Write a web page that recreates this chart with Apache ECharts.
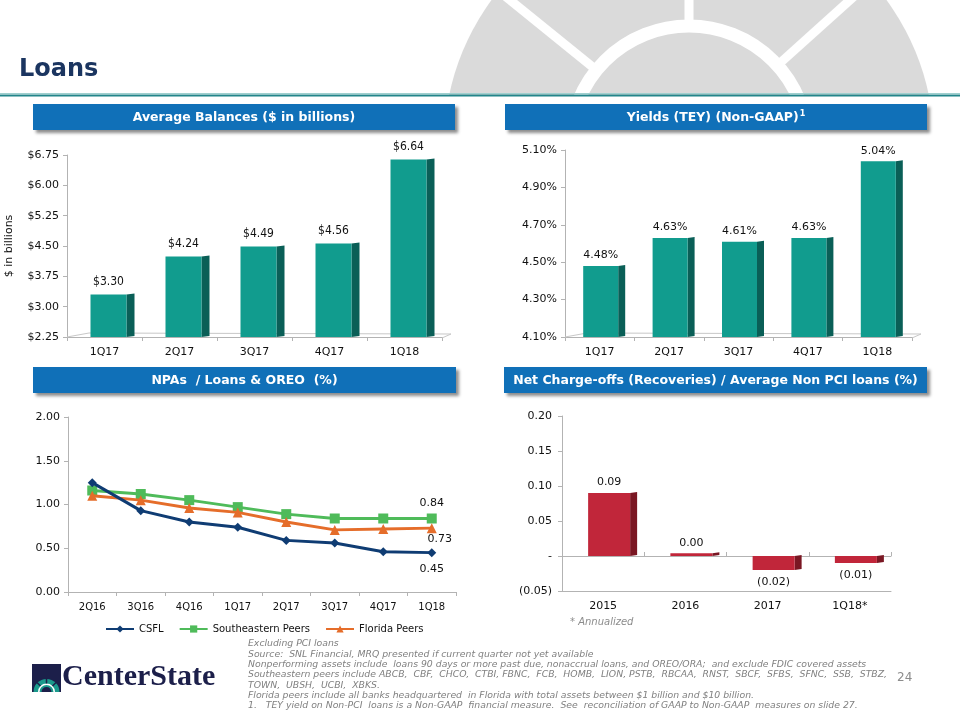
<!DOCTYPE html>
<html>
<head>
<meta charset="utf-8">
<script src="https://cdn.jsdelivr.net/npm/echarts@6/dist/echarts.min.js"></script>
<style>
html,body{margin:0;padding:0;background:#fff;}
#chart{width:960px;height:720px;}
</style>
</head>
<body>
<div id="chart"></div>
<script>
// ---------- data ----------
const balCats = ['1Q17', '2Q17', '3Q17', '4Q17', '1Q18'];
const balValues = [3.30, 4.24, 4.49, 4.56, 6.64];
const balTicks = [2.25, 3.00, 3.75, 4.50, 5.25, 6.00, 6.75];

const yieldCats = ['1Q17', '2Q17', '3Q17', '4Q17', '1Q18'];
const yieldValues = [4.48, 4.63, 4.61, 4.63, 5.04];
const yieldTicks = [4.10, 4.30, 4.50, 4.70, 4.90, 5.10];

const npaCats = ['2Q16', '3Q16', '4Q16', '1Q17', '2Q17', '3Q17', '4Q17', '1Q18'];
const csflValues = [1.25, 0.93, 0.80, 0.74, 0.59, 0.56, 0.46, 0.45];
const sePeersValues = [1.16, 1.12, 1.05, 0.97, 0.89, 0.84, 0.84, 0.84];
const flPeersValues = [1.10, 1.05, 0.96, 0.91, 0.80, 0.71, 0.72, 0.73];
const npaTicks = [0, 0.5, 1.0, 1.5, 2.0];

const ncoCats = ['2015', '2016', '2017', '1Q18*'];
const ncoValues = [0.09, 0.004, -0.02, -0.01];
const ncoTicks = [-0.05, 0, 0.05, 0.10, 0.15, 0.20];

const footLines = [
  'Excluding PCI loans',
  'Source:  SNL Financial, MRQ presented if current quarter not yet available',
  'Nonperforming assets include  loans 90 days or more past due, nonaccrual loans, and OREO/ORA;  and exclude FDIC covered assets',
  'Southeastern peers include ABCB,  CBF,  CHCO,  CTBI, FBNC,  FCB,  HOMB,  LION, PSTB,  RBCAA,  RNST,  SBCF,  SFBS,  SFNC,  SSB,  STBZ,',
  'TOWN,  UBSH,  UCBI,  XBKS.',
  'Florida peers include all banks headquartered  in Florida with total assets between $1 billion and $10 billion.',
  '1.   TEY yield on Non-PCI  loans is a Non-GAAP  financial measure.  See  reconciliation of GAAP to Non-GAAP  measures on slide 27.'
];

// ---------- style ----------
const FONT = '"DejaVu Sans", Verdana, sans-serif';
const FONT_C = '"DejaVu Sans Condensed", "DejaVu Sans", sans-serif';
const AXIS_GRAY = '#b3b3b3';
const TEAL = '#119c8e', TEAL_SIDE = '#0a5f57';
const RED = '#c1263a', RED_SIDE = '#7a1723';
const HEADER_BLUE = '#1070b8';

const G = [
  {left: 67, top: 155, width: 375, height: 182},
  {left: 565, top: 150, width: 347, height: 187},
  {left: 68, top: 417, width: 388, height: 175},
  {left: 562, top: 416, width: 329, height: 175}
];

function bar3d(o) {
  return function (params, api) {
    const i = api.value(0), v = api.value(1);
    const p = api.coord([i, v]);
    const b = api.coord([i, o.base]);
    const x = p[0] - o.w / 2 + o.shift;
    const yTop = Math.min(p[1], b[1]);
    const yBot = Math.max(p[1], b[1]);
    const h = Math.max(yBot - yTop, 0.8);
    const d = o.depth, s = o.slant;
    return {
      type: 'group',
      children: [
        {
          type: 'polygon',
          shape: {points: [[x + o.w, yTop], [x + o.w + d, yTop - s], [x + o.w + d, yTop + h - s], [x + o.w, yTop + h]]},
          style: {fill: o.side}
        },
        {
          type: 'rect',
          shape: {x: x, y: yTop, width: o.w, height: h},
          style: {fill: o.front},
          textContent: {
            style: {text: o.fmt(v), fill: '#111', font: o.font}
          },
          textConfig: {position: v >= 0 ? 'top' : 'bottom', distance: v >= 0 ? o.distTop : o.distBot}
        }
      ]
    };
  };
}

function fmtNco(v) {
  const r = Math.round(v * 100) / 100;
  if (Math.abs(v) < 1e-9) return '-';
  if (r < 0) return '(' + Math.abs(r).toFixed(2) + ')';
  return r.toFixed(2);
}

const HFONT = 'bold 12.5px ' + FONT;
function header(x, y, w, h, rich) {
  return {
    type: 'group',
    z: 10,
    children: [
      {
        type: 'rect', shape: {x: x, y: y, width: w, height: h},
        style: {fill: HEADER_BLUE, shadowBlur: 3, shadowOffsetX: 3, shadowOffsetY: 3, shadowColor: 'rgba(0,0,0,0.45)'}
      },
      {
        type: 'text', x: x + w / 2, y: y + h / 2 + 1,
        style: Object.assign({fill: '#fff', font: HFONT, align: 'center', verticalAlign: 'middle'}, rich)
      }
    ]
  };
}

function floorLines(g) {
  const L = g.left, B = g.top + g.height, R = g.left + g.width;
  return {
    type: 'polyline', z: 1,
    shape: {points: [[L, B], [L + 22, B - 4], [R + 9, B - 3], [R, B + 1]]},
    style: {stroke: '#c8c8c8', lineWidth: 1, fill: null}
  };
}

// ---------- graphics ----------
const CX = 689, CY = 145;
function spoke(ang, r0, r1) {
  const a = ang * Math.PI / 180;
  return {
    type: 'line', z: -9,
    shape: {x1: CX + r0 * Math.cos(a), y1: CY - r0 * Math.sin(a), x2: CX + r1 * Math.cos(a), y2: CY - r1 * Math.sin(a)},
    style: {stroke: '#fff', lineWidth: 9}
  };
}

const NAVY = '#1c1f4a', LOGO_TEAL = '#1a9a8c';
const graphics = [
  {type: 'circle', z: -10, shape: {cx: CX, cy: CY, r: 245}, style: {fill: '#dadada'}},
  {type: 'circle', z: -9, shape: {cx: CX, cy: CY, r: 119}, style: {fill: null, stroke: '#fff', lineWidth: 13}},
  spoke(90, 124, 260),
  spoke(141, 124, 260),
  spoke(42, 124, 260),
  {type: 'rect', z: -5, shape: {x: 0, y: 95, width: 960, height: 625}, style: {fill: '#fff'}},
  {type: 'line', z: -4, shape: {x1: 0, y1: 93.5, x2: 960, y2: 93.5}, style: {stroke: '#9fd0cf', lineWidth: 1}},
  {type: 'line', z: -4, shape: {x1: 0, y1: 95.5, x2: 960, y2: 95.5}, style: {stroke: '#23858a', lineWidth: 2}},
  {type: 'text', x: 19, y: 70, style: {text: 'Loans', font: 'bold 24px ' + FONT, fill: '#1b3560', verticalAlign: 'middle'}},
  header(33, 104, 422, 26, {text: 'Average Balances ($ in billions)'}),
  header(505, 104, 422, 26, {
    text: '{m|Yields (TEY) (Non-GAAP)}{s|1}',
    rich: {
      m: {fill: '#fff', font: HFONT, lineHeight: 16},
      s: {fill: '#fff', font: 'bold 8px ' + FONT, lineHeight: 16, verticalAlign: 'top', padding: [0, 0, 6, 1]}
    }
  }),
  header(33, 367, 423, 26, {text: 'NPAs  / Loans & OREO  (%)'}),
  header(504, 367, 423, 26, {text: 'Net Charge-offs (Recoveries) / Average Non PCI loans (%)'}),
  floorLines(G[0]),
  floorLines(G[1]),
  {type: 'text', x: 570, y: 622, style: {text: '* Annualized', font: 'italic 10px ' + FONT, fill: '#8c8c8c', verticalAlign: 'middle'}},
  {type: 'text', x: 897, y: 678, style: {text: '24', font: '12px ' + FONT, fill: '#8c8c8c', verticalAlign: 'middle'}},
  // logo
  {type: 'rect', shape: {x: 32, y: 664, width: 29, height: 28}, style: {fill: NAVY}},
  {type: 'sector', shape: {cx: 46.5, cy: 692, r0: 0, r: 13, startAngle: Math.PI, endAngle: 2 * Math.PI}, style: {fill: LOGO_TEAL}},
  {type: 'sector', shape: {cx: 46.5, cy: 692, r0: 7, r: 8.5, startAngle: Math.PI, endAngle: 2 * Math.PI}, style: {fill: '#fff'}},
  {type: 'sector', shape: {cx: 46.5, cy: 692, r0: 0, r: 5, startAngle: Math.PI, endAngle: 2 * Math.PI}, style: {fill: NAVY}},
  {type: 'line', shape: {x1: 46.5, y1: 683.5, x2: 46.5, y2: 679}, style: {stroke: NAVY, lineWidth: 1.5}},
  {type: 'line', shape: {x1: 40.5, y1: 686, x2: 37, y2: 682.5}, style: {stroke: NAVY, lineWidth: 1.5}},
  {type: 'line', shape: {x1: 52.5, y1: 686, x2: 56, y2: 682.5}, style: {stroke: NAVY, lineWidth: 1.5}},
  {type: 'text', x: 62, y: 692, style: {text: 'CenterState', font: 'bold 30px "Liberation Serif", serif', fill: NAVY, verticalAlign: 'bottom'}}
];
footLines.forEach(function (t, i) {
  graphics.push({type: 'text', x: 248, y: 644 + i * 10.3, style: {text: t, font: 'italic 9.3px ' + FONT, fill: '#808080', verticalAlign: 'middle'}});
});

// ---------- axes ----------
function catAxis(gi, data, extra) {
  return Object.assign({
    type: 'category', gridIndex: gi, data: data, boundaryGap: true,
    axisLine: {show: true, lineStyle: {color: AXIS_GRAY}},
    axisTick: {show: true, length: 4, lineStyle: {color: AXIS_GRAY}},
    axisLabel: {color: '#111', fontSize: 11, fontFamily: FONT, margin: 10},
    splitLine: {show: false}
  }, extra || {});
}
function valAxis(gi, extra) {
  return Object.assign({
    type: 'value', gridIndex: gi,
    axisLine: {show: true, lineStyle: {color: AXIS_GRAY}},
    axisTick: {show: true, length: 4, lineStyle: {color: AXIS_GRAY}},
    axisLabel: {color: '#111', fontSize: 11, fontFamily: FONT, margin: 8},
    splitLine: {show: false}
  }, extra || {});
}

const option = {
  animation: false,
  backgroundColor: '#fff',
  textStyle: {fontFamily: FONT},
  grid: G.map(function (g) { return Object.assign({containLabel: false}, g); }),
  xAxis: [
    catAxis(0, balCats),
    catAxis(1, yieldCats),
    catAxis(2, npaCats, {axisLabel: {color: '#111', fontSize: 10, fontFamily: FONT, margin: 10}}),
    catAxis(3, ncoCats, {axisLine: {show: true, onZero: false, lineStyle: {color: AXIS_GRAY}}, axisTick: {show: false}}),
    catAxis(3, ncoCats, {axisLine: {show: true, onZero: true, lineStyle: {color: AXIS_GRAY}}, axisLabel: {show: false}})
  ],
  yAxis: [
    valAxis(0, {
      min: balTicks[0], max: balTicks[balTicks.length - 1], interval: 0.75,
      axisLabel: {color: '#111', fontSize: 11, fontFamily: FONT, margin: 8, formatter: function (v) { return '$' + v.toFixed(2); }},
      name: '$ in billions', nameLocation: 'middle', nameRotate: 90, nameGap: 52,
      nameTextStyle: {color: '#111', fontSize: 11, fontFamily: FONT}
    }),
    valAxis(1, {
      min: yieldTicks[0], max: yieldTicks[yieldTicks.length - 1],
      axisLabel: {color: '#111', fontSize: 11, fontFamily: FONT, margin: 8, customValues: yieldTicks, formatter: function (v) { return v.toFixed(2) + '%'; }},
      axisTick: {show: true, length: 4, lineStyle: {color: AXIS_GRAY}, customValues: yieldTicks}
    }),
    valAxis(2, {
      min: npaTicks[0], max: npaTicks[npaTicks.length - 1], interval: 0.5,
      axisLabel: {color: '#111', fontSize: 11, fontFamily: FONT, margin: 8, formatter: function (v) { return v.toFixed(2); }}
    }),
    valAxis(3, {
      min: ncoTicks[0], max: ncoTicks[ncoTicks.length - 1], interval: 0.05,
      axisLabel: {color: '#111', fontSize: 11, fontFamily: FONT, margin: 10, formatter: fmtNco}
    })
  ],
  legend: {
    data: ['CSFL', 'Southeastern Peers', 'Florida Peers'],
    left: 100, top: 619, itemWidth: 28, itemHeight: 9, itemGap: 15,
    textStyle: {fontSize: 10, fontFamily: FONT, color: '#111'}
  },
  series: [
    {
      type: 'custom', xAxisIndex: 0, yAxisIndex: 0,
      data: balValues.map(function (v, i) { return [i, v]; }),
      encode: {x: 0, y: 1},
      renderItem: bar3d({base: balTicks[0], w: 36, depth: 8, slant: 1, shift: 4, front: TEAL, side: TEAL_SIDE,
        font: '12px ' + FONT_C, distTop: 7, distBot: 7, fmt: function (v) { return '$' + v.toFixed(2); }})
    },
    {
      type: 'custom', xAxisIndex: 1, yAxisIndex: 1,
      data: yieldValues.map(function (v, i) { return [i, v]; }),
      encode: {x: 0, y: 1},
      renderItem: bar3d({base: yieldTicks[0], w: 35, depth: 7, slant: 1, shift: 1, front: TEAL, side: TEAL_SIDE,
        font: '11px ' + FONT, distTop: 5, distBot: 5, fmt: function (v) { return v.toFixed(2) + '%'; }})
    },
    {
      name: 'CSFL', type: 'line', xAxisIndex: 2, yAxisIndex: 2, z: 4,
      data: csflValues.map(function (v, i) {
        return i === csflValues.length - 1 ? {value: v, label: {show: true, position: 'bottom', distance: 7}} : v;
      }),
      symbol: 'diamond', symbolSize: 9,
      lineStyle: {color: '#0f3c73', width: 3}, itemStyle: {color: '#0f3c73'},
      label: {show: false, color: '#111', fontSize: 11, fontFamily: FONT, formatter: function (p) { return p.value.toFixed(2); }}
    },
    {
      name: 'Southeastern Peers', type: 'line', xAxisIndex: 2, yAxisIndex: 2, z: 2,
      data: sePeersValues.map(function (v, i) {
        return i === sePeersValues.length - 1 ? {value: v, label: {show: true, position: 'top', distance: 5}} : v;
      }),
      symbol: 'rect', symbolSize: 10,
      lineStyle: {color: '#4fbb5a', width: 3}, itemStyle: {color: '#4fbb5a'},
      label: {show: false, color: '#111', fontSize: 11, fontFamily: FONT, formatter: function (p) { return p.value.toFixed(2); }}
    },
    {
      name: 'Florida Peers', type: 'line', xAxisIndex: 2, yAxisIndex: 2, z: 3,
      data: flPeersValues.map(function (v, i) {
        return i === flPeersValues.length - 1 ? {value: v, label: {show: true, position: 'bottom', distance: 1, offset: [8, 0]}} : v;
      }),
      symbol: 'triangle', symbolSize: 10,
      lineStyle: {color: '#e56d2a', width: 3}, itemStyle: {color: '#e56d2a'},
      label: {show: false, color: '#111', fontSize: 11, fontFamily: FONT, formatter: function (p) { return p.value.toFixed(2); }}
    },
    {
      type: 'custom', xAxisIndex: 3, yAxisIndex: 3,
      data: ncoValues.map(function (v, i) { return [i, v]; }),
      encode: {x: 0, y: 1},
      renderItem: bar3d({base: 0, w: 42, depth: 7, slant: 1, shift: 6, front: RED, side: RED_SIDE,
        font: '11px ' + FONT, distTop: 5, distBot: 7, fmt: function (v) {
          const r = Math.round(v * 100) / 100;
          return r < 0 ? '(' + Math.abs(r).toFixed(2) + ')' : Math.abs(r).toFixed(2);
        }})
    }
  ],
  graphic: {elements: graphics}
};

const chart = echarts.init(document.getElementById('chart'), null, {renderer: 'canvas'});
chart.setOption(option);
</script>
</body>
</html>
